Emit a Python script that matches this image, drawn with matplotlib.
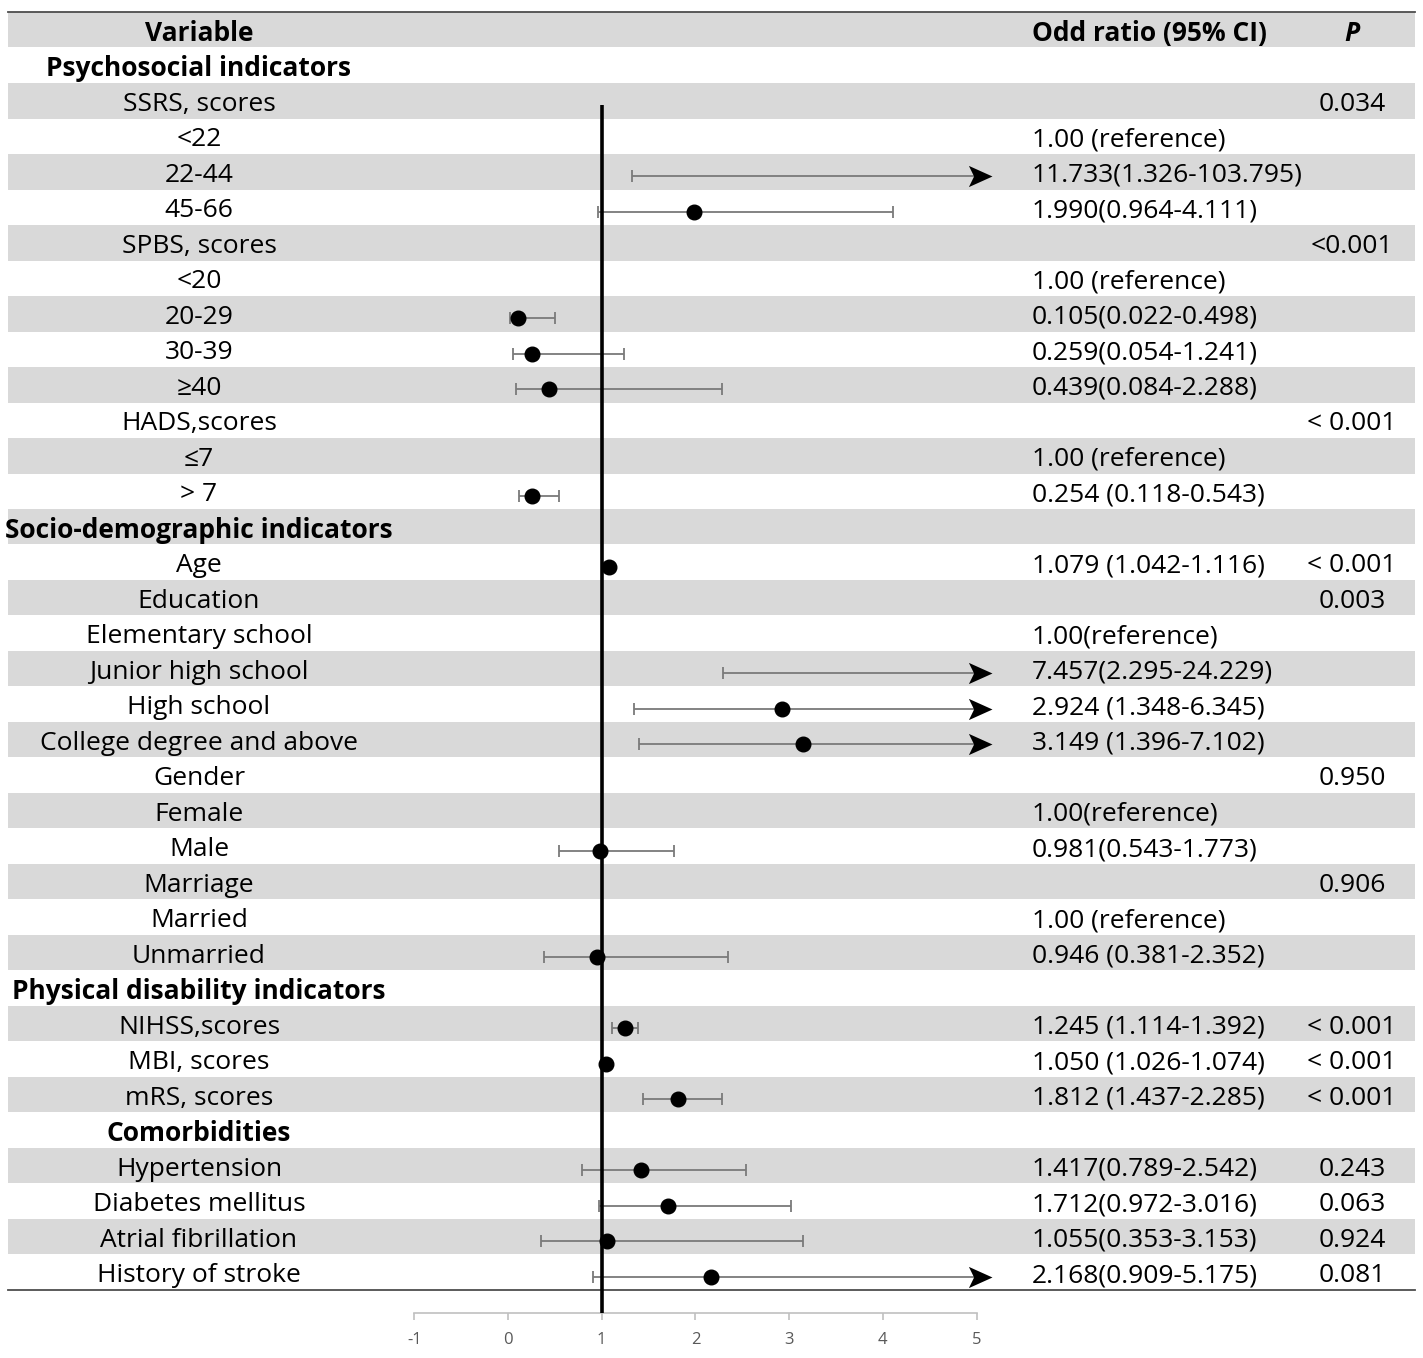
import numpy as np
import matplotlib
matplotlib.use("Agg")
import matplotlib.pyplot as plt
from matplotlib import transforms
from matplotlib.path import Path

plt.rcParams['font.family'] = ['Open Sans', 'DejaVu Sans']
plt.rcParams['axes.unicode_minus'] = False

# ---- table content ----
labels = ['Variable', 'Psychosocial indicators', 'SSRS, scores', '<22', '22-44', '45-66',
          'SPBS, scores', '<20', '20-29', '30-39', '\u226540', 'HADS,scores', '\u22647', '> 7',
          'Socio-demographic indicators', 'Age', 'Education', 'Elementary school',
          'Junior high school', 'High school', 'College degree and above', 'Gender',
          'Female', 'Male', 'Marriage', 'Married', 'Unmarried',
          'Physical disability indicators', 'NIHSS,scores', 'MBI, scores', 'mRS, scores',
          'Comorbidities', 'Hypertension', 'Diabetes mellitus', 'Atrial fibrillation',
          'History of stroke']
bold_rows = [0, 1, 14, 27, 31]

or_text = ['Odd ratio (95% CI)', '', '', '1.00 (reference)', '11.733(1.326-103.795)',
           '1.990(0.964-4.111)', '', '1.00 (reference)', '0.105(0.022-0.498)',
           '0.259(0.054-1.241)', '0.439(0.084-2.288)', '', '1.00 (reference)',
           '0.254 (0.118-0.543)', '', '1.079 (1.042-1.116)', '', '1.00(reference)',
           '7.457(2.295-24.229)', '2.924 (1.348-6.345)', '3.149 (1.396-7.102)', '',
           '1.00(reference)', '0.981(0.543-1.773)', '', '1.00 (reference)',
           '0.946 (0.381-2.352)', '', '1.245 (1.114-1.392)', '1.050 (1.026-1.074)',
           '1.812 (1.437-2.285)', '', '1.417(0.789-2.542)', '1.712(0.972-3.016)',
           '1.055(0.353-3.153)', '2.168(0.909-5.175)']

p_text = ['P', '', '0.034', '', '', '', '<0.001', '', '', '', '', '< 0.001', '', '', '',
          '< 0.001', '0.003', '', '', '', '', '0.950', '', '', '0.906', '', '', '',
          '< 0.001', '< 0.001', '< 0.001', '', '0.243', '0.063', '0.924', '0.081']

# plotted estimates (row index, OR, lower, upper)
est_rows = [4, 5, 8, 9, 10, 13, 15, 18, 19, 20, 23, 26, 28, 29, 30, 32, 33, 34, 35]
est = [11.733, 1.990, 0.105, 0.259, 0.439, 0.254, 1.079, 7.457, 2.924, 3.149,
       0.981, 0.946, 1.245, 1.050, 1.812, 1.417, 1.712, 1.055, 2.168]
lower = [1.326, 0.964, 0.022, 0.054, 0.084, 0.118, 1.042, 2.295, 1.348, 1.396,
         0.543, 0.381, 1.114, 1.026, 1.437, 0.789, 0.972, 0.353, 0.909]
upper = [103.795, 4.111, 0.498, 1.241, 2.288, 0.543, 1.116, 24.229, 6.345, 7.102,
         1.773, 2.352, 1.392, 1.074, 2.285, 2.542, 3.016, 3.153, 5.175]

# ---- layout (pixels of a 1423x1358 image) ----
W, H = 1423, 1358
px0, ppu = 508, 93.7          # pixel of x=0 and pixels per unit
row0, rowh = 29.75, 35.5      # pixel center of row 0 and row height
nrows = len(labels)
xclip = 5.17
y_axis = (1313 - row0) / rowh

fig = plt.figure(figsize=(W / 100, H / 100), dpi=100)
ax = fig.add_axes([0, 0, 1, 1])
ax.set_xlim(-px0 / ppu, (W - px0) / ppu)
ax.set_ylim((H - row0) / rowh, -row0 / rowh)

x_l, x_r = 8 / W, 1415 / W
for i in range(nrows):
    if i % 2 == 0:
        ax.axhspan(i - 0.5, i + 0.5, xmin=x_l, xmax=x_r, color='#d9d9d9', lw=0, zorder=0)
ax.axhline(-0.5, x_l, x_r, color='#4d4d4d', lw=1.3, zorder=1)
ax.axhline(nrows - 0.5, x_l, x_r, color='#4d4d4d', lw=1.3, zorder=1)

tr = transforms.blended_transform_factory(fig.transFigure, ax.transData)
fs = 19
ty = 0.1   # text sits a touch below the row centre
for i, lab in enumerate(labels):
    ax.text(199 / W, i + ty, lab, transform=tr, ha='center', va='center', fontsize=fs,
            fontweight='bold' if i in bold_rows else 'normal', color='black')
for i, t in enumerate(or_text):
    if t:
        ax.text(1032 / W, i + ty, t, transform=tr, ha='left', va='center', fontsize=fs,
                fontweight='bold' if i == 0 else 'normal')
for i, t in enumerate(p_text):
    if t:
        ax.text(1352 / W, i + ty, t, transform=tr, ha='center', va='center', fontsize=fs,
                fontweight='bold' if i == 0 else 'normal',
                fontstyle='italic' if i == 0 else 'normal')

# reference line at OR = 1
ax.vlines(1, 2.12, y_axis, color='black', lw=2.6, zorder=3)

# arrow head marker (tip at origin)
arrow = Path([(0, 0), (-1, 0.45), (-0.78, 0), (-1, -0.45), (0, 0)],
             [Path.MOVETO, Path.LINETO, Path.LINETO, Path.LINETO, Path.CLOSEPOLY])

dy = 0.13
ecol = '#7a7a7a'
for r, e, lo, hi in zip(est_rows, est, lower, upper):
    y = r + dy
    if hi > xclip:
        ax.hlines(y, lo, xclip - 0.1, color=ecol, lw=1.3, zorder=2)
        ax.plot([lo], [y], marker='|', ms=9, mew=1.3, color=ecol, zorder=2)
        ax.plot([xclip], [y], marker=arrow, ms=34, color='black', mew=0, zorder=4)
    else:
        ax.errorbar([e], [y], xerr=[[e - lo], [hi - e]], fmt='none', ecolor=ecol,
                    elinewidth=1.3, capsize=4.5, capthick=1.3, zorder=2)
    if e <= xclip:
        ax.plot([e], [y], 'o', ms=10.5, color='black', zorder=5)

# bottom axis
for s in ['top', 'left', 'right']:
    ax.spines[s].set_visible(False)
ax.spines['bottom'].set_position(('data', y_axis))
ax.spines['bottom'].set_bounds(-1, 5)
ax.spines['bottom'].set_color('#c0c0c0')
ax.spines['bottom'].set_linewidth(1.2)
ax.set_xticks(range(-1, 6))
ax.tick_params(axis='x', direction='out', length=5, width=1.2, color='#c0c0c0',
               labelsize=12, labelcolor='#595959', pad=9)
ax.set_yticks([])

fig.savefig('out.png', dpi=100)
